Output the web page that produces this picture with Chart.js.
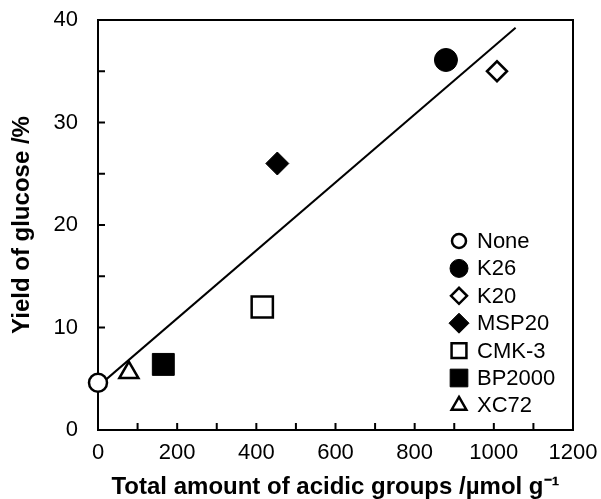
<!DOCTYPE html>
<html>
<head>
<meta charset="utf-8">
<script src="https://cdn.jsdelivr.net/npm/chart.js@4/dist/chart.umd.min.js"></script>
<style>
  html, body { margin: 0; padding: 0; background: #fff; }
  #wrap { width: 601px; height: 499px; position: relative; }
</style>
</head>
<body>
<div id="wrap"><canvas id="c"></canvas></div>
<script>
// ---- data ----
const categories   = ['None', 'K26', 'K20', 'MSP20', 'CMK-3', 'BP2000', 'XC72'];
const acidGroups   = [0, 879, 1008, 453, 415, 165, 78];      // µmol g-1
const glucoseYield = [4.6, 36.1, 35.0, 26.0, 12.0, 6.4, 5.6]; // %
const trendX = [0, 1055];
const trendY = [4.25, 39.25];
const xTickLabels = [0, 200, 400, 600, 800, 1000, 1200];
const yTickLabels = [0, 10, 20, 30, 40];

// ---- styles ----
const markerStyle = [
  { pointStyle: 'circle',   radius: 9,    fill: '#ffffff', bw: 2.5, lr: 7 },
  { pointStyle: 'circle',   radius: 11.5, fill: '#000000', bw: 1,   lr: 9 },
  { pointStyle: 'rectRot',  radius: 10,   fill: '#ffffff', bw: 2.5, lr: 8 },
  { pointStyle: 'rectRot',  radius: 11.5, fill: '#000000', bw: 1,   lr: 10 },
  { pointStyle: 'rect',     radius: 15,   fill: '#ffffff', bw: 2.5, lr: 10.5 },
  { pointStyle: 'rect',     radius: 15.5, fill: '#000000', bw: 1,   lr: 12.5 },
  { pointStyle: 'triangle', radius: 11,   fill: '#ffffff', bw: 2.5, lr: 8.5 }
];

const FONT = "'Liberation Sans', Arial, sans-serif";

const datasets = categories.map((name, i) => ({
  type: 'scatter',
  label: name,
  data: [{ x: acidGroups[i], y: glucoseYield[i] }],
  pointStyle: markerStyle[i].pointStyle,
  pointRadius: markerStyle[i].radius,
  pointBackgroundColor: markerStyle[i].fill,
  pointBorderColor: '#000000',
  pointBorderWidth: markerStyle[i].bw,
  clip: false
}));
datasets.push({
  type: 'line',
  label: 'trend',
  data: trendX.map((x, i) => ({ x: x, y: trendY[i] })),
  borderColor: '#000000',
  borderWidth: 2,
  pointRadius: 0,
  fill: false,
  tension: 0
});

function drawMarker(ctx, style, x, y, r) {
  ctx.save();
  ctx.fillStyle = style.fill;
  ctx.strokeStyle = '#000';
  ctx.lineWidth = style.bw;
  if (Chart.helpers && Chart.helpers.drawPoint) {
    Chart.helpers.drawPoint(ctx, { pointStyle: style.pointStyle, radius: r, rotation: 0, borderWidth: style.bw }, x, y);
  } else {
    ctx.beginPath();
    ctx.arc(x, y, r, 0, Math.PI * 2);
    ctx.fill(); ctx.stroke();
  }
  ctx.restore();
}

const framePlugin = {
  id: 'frame',
  beforeDatasetsDraw(chart) {
    const { ctx, chartArea: a, scales } = chart;
    ctx.save();
    ctx.strokeStyle = '#000';
    ctx.lineWidth = 2;
    ctx.strokeRect(a.left, a.top, a.right - a.left, a.bottom - a.top);
    ctx.beginPath();
    scales.x.ticks.forEach(t => {
      const px = scales.x.getPixelForValue(t.value);
      ctx.moveTo(px, a.bottom);
      ctx.lineTo(px, a.bottom - 7);
    });
    scales.y.ticks.forEach(t => {
      const py = scales.y.getPixelForValue(t.value);
      ctx.moveTo(a.left, py);
      ctx.lineTo(a.left + 7, py);
    });
    ctx.stroke();
    ctx.restore();
  },
  afterDraw(chart) {
    const { ctx } = chart;
    const x0 = 459, y0 = 241, dy = 27.4;
    ctx.save();
    ctx.font = '22px ' + FONT;
    ctx.fillStyle = '#000';
    ctx.textBaseline = 'middle';
    ctx.textAlign = 'left';
    categories.forEach((name, i) => {
      const y = y0 + i * dy;
      drawMarker(ctx, markerStyle[i], x0, y, markerStyle[i].lr);
      ctx.fillText(name, x0 + 18, y + 1);
    });
    ctx.restore();
  }
};

new Chart(document.getElementById('c'), {
  data: { datasets: datasets },
  options: {
    responsive: true,
    maintainAspectRatio: false,
    animation: false,
    events: [],
    layout: { padding: { left: 0, right: 28, top: 20, bottom: 0 } },
    plugins: { legend: { display: false }, tooltip: { enabled: false } },
    scales: {
      x: {
        type: 'linear',
        min: 0, max: 1200,
        grid: { display: false },
        border: { display: false },
        ticks: {
          stepSize: 100,
          autoSkip: false,
          maxRotation: 0,
          padding: 2,
          color: '#000',
          font: { family: FONT, size: 22 },
          callback: v => xTickLabels.includes(v) ? String(v) : ''
        },
        title: {
          display: true,
          text: 'Total amount of acidic groups /µmol g⁻¹',
          color: '#000',
          font: { family: FONT, size: 24, weight: 'bold', lineHeight: 1 },
          padding: { top: 0, bottom: 0 }
        },
        afterFit(scale) { scale.height = 69; scale.paddingLeft = 0; scale.paddingRight = 0; }
      },
      y: {
        type: 'linear',
        min: 0, max: 40,
        grid: { display: false },
        border: { display: false },
        ticks: {
          stepSize: 5,
          autoSkip: false,
          padding: 12,
          color: '#000',
          font: { family: FONT, size: 22 },
          callback: v => yTickLabels.includes(v) ? String(v) : ''
        },
        title: {
          display: true,
          text: 'Yield of glucose /%',
          color: '#000',
          font: { family: FONT, size: 24, weight: 'bold', lineHeight: 1 },
          padding: { top: 10, bottom: 0 }
        },
        afterFit(scale) { scale.width = 98; scale.paddingTop = 0; scale.paddingBottom = 0; }
      }
    }
  },
  plugins: [framePlugin]
});
</script>
</body>
</html>
